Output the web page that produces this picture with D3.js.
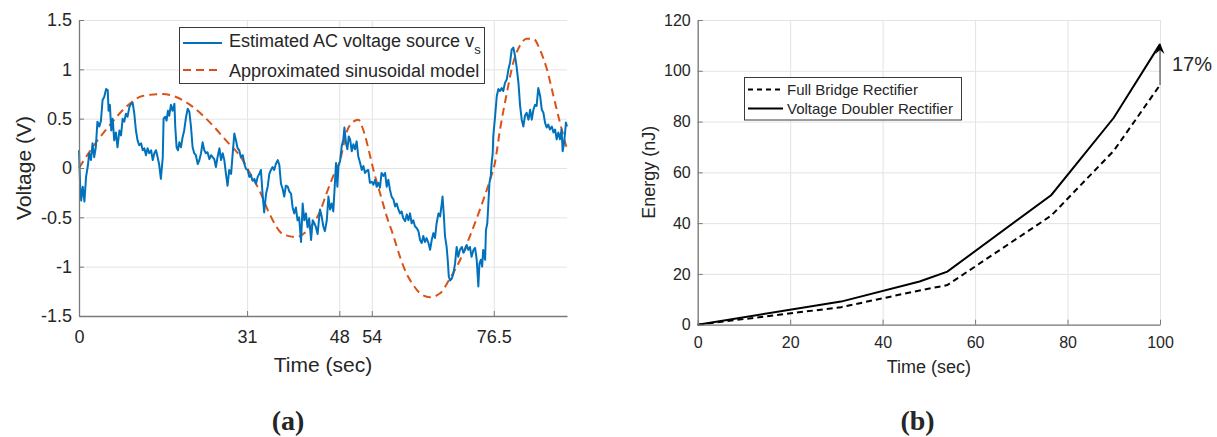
<!DOCTYPE html>
<html><head><meta charset="utf-8">
<script src="https://cdn.jsdelivr.net/npm/d3@7/dist/d3.min.js"></script>
<style>
body{margin:0;background:#fff}
svg{display:block}
text{font-family:"Liberation Sans",Arial,Helvetica,sans-serif;fill:#262626}
</style>
</head><body>
<svg id="chart" width="1217" height="437"></svg>
<script>
// ---------- Panel (a) data ----------
const estimatedVs = [[0.0,0.18],[0.2,-0.16],[0.4,-0.33],[0.7,-0.19],[1.0,-0.34],[1.3,-0.09],[1.6,0.01],[1.9,0.15],[2.2,0.08],[2.5,0.25],[2.8,0.11],[3.1,0.21],[3.4,0.47],[3.75,0.42],[4.05,0.48],[4.35,0.69],[4.65,0.72],[5.0,0.80],[5.3,0.79],[5.45,0.58],[5.7,0.64],[5.95,0.38],[6.2,0.50],[6.5,0.28],[6.8,0.36],[7.1,0.21],[7.45,0.38],[7.75,0.33],[8.05,0.50],[8.35,0.47],[8.65,0.55],[8.95,0.52],[9.3,0.62],[9.6,0.65],[9.9,0.66],[10.2,0.55],[10.5,0.38],[10.8,0.28],[11.1,0.23],[11.45,0.25],[11.75,0.18],[12.05,0.20],[12.35,0.13],[12.65,0.20],[12.95,0.15],[13.3,0.18],[13.6,0.08],[13.9,0.15],[14.2,0.18],[14.5,0.11],[14.8,0.03],[15.1,-0.11],[15.45,0.11],[15.6,0.50],[15.9,0.52],[16.15,0.48],[16.4,0.58],[16.65,0.53],[16.95,0.64],[17.25,0.58],[17.6,0.65],[17.75,0.42],[18.0,0.21],[18.25,0.18],[18.5,0.26],[18.8,0.21],[19.1,0.31],[19.4,0.38],[19.75,0.52],[20.05,0.60],[20.35,0.57],[20.65,0.42],[20.95,0.21],[21.25,0.15],[21.55,0.13],[21.9,0.04],[22.2,0.08],[22.5,0.15],[22.8,0.26],[23.1,0.18],[23.4,0.15],[23.7,0.16],[24.05,0.09],[24.35,0.13],[24.65,0.11],[24.95,0.09],[25.25,0.01],[25.55,0.11],[25.9,0.20],[26.2,0.08],[26.5,0.15],[26.8,0.08],[27.1,-0.06],[27.4,-0.18],[27.7,-0.02],[28.05,-0.06],[28.35,0.15],[28.65,0.35],[28.95,0.28],[29.25,0.20],[29.55,0.18],[29.85,0.11],[30.2,0.13],[30.5,0.04],[30.8,-0.01],[31.1,-0.02],[31.4,-0.09],[31.7,-0.07],[32.0,-0.13],[32.35,-0.11],[32.65,-0.16],[32.95,-0.09],[33.25,-0.06],[33.55,-0.02],[33.85,-0.26],[34.15,-0.45],[34.5,-0.26],[34.8,-0.19],[35.1,-0.06],[35.4,-0.02],[35.7,0.01],[36.0,-0.02],[36.3,0.04],[36.65,0.08],[36.95,0.03],[37.25,-0.16],[37.55,-0.21],[37.85,-0.29],[38.15,-0.18],[38.5,-0.19],[38.8,-0.24],[39.1,-0.26],[39.4,-0.40],[39.7,-0.46],[40.0,-0.40],[40.3,-0.53],[40.6,-0.50],[40.95,-0.75],[41.25,-0.36],[41.55,-0.53],[41.85,-0.46],[42.15,-0.60],[42.45,-0.51],[42.8,-0.73],[43.1,-0.53],[43.4,-0.56],[43.7,-0.60],[44.0,-0.67],[44.3,-0.50],
[44.45,-0.42],[44.75,-0.49],[45.05,-0.59],[45.35,-0.64],[45.7,-0.53],[46.0,-0.29],[46.3,-0.42],[46.6,-0.36],[46.9,-0.44],[47.2,-0.15],[47.4,0.05],[47.65,-0.19],[47.85,0.02],[48.15,0.07],[48.45,0.22],[48.75,0.29],[48.95,0.41],[49.25,0.25],[49.5,0.19],[49.75,0.32],[50.0,0.29],[50.3,0.17],[50.6,0.24],[50.9,0.19],[51.2,0.27],[51.5,0.12],[51.85,0.05],[52.15,-0.02],[52.45,0.02],[52.75,-0.05],[53.05,-0.03],[53.35,-0.02],[53.65,-0.15],[54.0,-0.14],[54.3,-0.17],[54.6,-0.12],[54.9,-0.19],[55.2,-0.15],[55.5,-0.20],[55.8,-0.05],[56.15,-0.08],[56.45,-0.05],[56.75,-0.19],[57.05,-0.12],[57.35,-0.22],[57.65,-0.29],[58.0,-0.32],[58.3,-0.39],[58.6,-0.36],[58.9,-0.42],[59.2,-0.46],[59.5,-0.44],[59.8,-0.51],[60.15,-0.54],[60.45,-0.47],[60.75,-0.53],[61.05,-0.46],[61.35,-0.56],[61.65,-0.53],[61.95,-0.59],[62.3,-0.61],[62.6,-0.64],[62.9,-0.73],[63.2,-0.76],[63.5,-0.69],[63.8,-0.75],[64.1,-0.71],[64.45,-0.76],[64.75,-0.83],[65.05,-0.73],[65.35,-0.66],[65.65,-0.71],[65.95,-0.56],[66.3,-0.46],[66.6,-0.49],[66.9,-0.36],[67.05,-0.29],[67.3,-0.49],[67.5,-0.69],[67.8,-0.80],[68.0,-0.93],[68.2,-1.10],[68.45,-1.14],[68.75,-1.12],[69.05,-1.07],[69.35,-0.97],[69.65,-0.80],[69.95,-0.90],[70.25,-0.83],[70.6,-0.80],[70.9,-0.86],[71.2,-0.83],[71.5,-0.78],[71.8,-0.83],[72.1,-0.80],[72.4,-0.90],[72.75,-0.83],[73.05,-0.81],[73.35,-0.93],[73.65,-1.20],[73.85,-0.97],[74.1,-0.93],[74.35,-1.00],[74.55,-0.83],[74.9,-0.93],[75.05,-0.63],[75.3,-0.56],[75.5,-0.36],[75.7,-0.15],[75.95,-0.08],[76.1,0.05],[76.3,0.15],[76.4,0.32],[76.75,0.53],[77.05,0.73],[77.35,0.80],[77.65,0.78],[77.95,0.81],[78.25,0.78],[78.55,0.86],[78.9,0.90],[79.2,1.00],[79.5,1.07],[79.8,1.20],[80.1,1.22],[80.4,1.14],[80.7,1.03],[81.05,0.86],[81.35,0.63],[81.65,0.49],[81.95,0.42],[82.25,0.53],[82.55,0.56],[82.9,0.49],[83.2,0.59],[83.5,0.49],[83.8,0.59],[84.1,0.64],[84.4,0.63],[84.7,0.81],[85.05,0.73],[85.35,0.59],[85.65,0.56],[85.95,0.46],[86.25,0.41],[86.55,0.44],[86.85,0.39],[87.2,0.42],[87.5,0.36],[87.8,0.39],[88.1,0.29],[88.4,0.36],[88.7,0.29],[89.0,0.39],[89.2,0.17],[89.45,0.25],[89.65,0.36],[89.8,0.46],[90.0,0.42]];

const sinusoidalModel = [[0,0],[2.5,0.21],[5.6,0.43],[8.7,0.62],[11.7,0.73],[15.4,0.75],[17.9,0.72],[21.0,0.62],[24.0,0.47],[27.1,0.28],[30.2,0.08],[31.4,-0.04],[33.3,-0.23],[35.1,-0.46],[37.6,-0.67],[40.0,-0.70],[42.5,-0.61],[44.45,-0.44],[45.7,-0.25],[46.9,-0.08],[48.1,0.07],[49.4,0.37],[50.6,0.47],[51.5,0.49],[52.4,0.39],[53.7,0.12],[54.3,-0.02],[55.5,-0.25],[56.75,-0.49],[58.0,-0.69],[59.2,-0.90],[60.4,-1.07],[61.7,-1.19],[62.9,-1.27],[64.7,-1.31],[66.6,-1.27],[68.4,-1.12],[70.3,-0.93],[72.1,-0.69],[73.95,-0.42],[75.8,-0.12],[76.7,0.05],[77.65,0.39],[78.9,0.76],[80.1,1.07],[81.3,1.24],[82.55,1.31],[83.8,1.31],[85.0,1.20],[86.3,1.00],[87.5,0.73],[88.7,0.46],[90.0,0.19]];

const aXTicks = [0, 31, 48, 54, 76.5];
const aXTickLabels = ["0", "31", "48", "54", "76.5"];
const aYTicks = [-1.5, -1, -0.5, 0, 0.5, 1, 1.5];
const aYTickLabels = ["-1.5", "-1", "-0.5", "0", "0.5", "1", "1.5"];

// ---------- Panel (b) data ----------
const energyTime = [0, 31, 48, 54, 76.5, 90, 100];
const fullBridge = [0, 6.9, 13.5, 15.6, 43, 68.5, 94.4];
const voltageDoubler = [0, 9.1, 17, 20.9, 51.1, 81.5, 110.5];
const bXTicks = [0, 20, 40, 60, 80, 100];
const bYTicks = [0, 20, 40, 60, 80, 100, 120];
const arrowFromTo = [94.4, 110.5];
const arrowLabel = "17%";

const svg = d3.select("#chart");
const GRID = "#e3e3e3", AXIS = "#7a7a7a";

function styleAxis(g, fs){
  g.select(".domain").attr("stroke", AXIS).attr("stroke-width", 1.3);
  g.selectAll(".tick line").attr("stroke", AXIS).attr("stroke-width", 1);
  g.selectAll(".tick text").style("font-size", fs + "px").attr("fill", "#262626")
   .style("font-family", '"Liberation Sans",Arial,sans-serif');
}
function grid(g){
  g.select(".domain").remove();
  g.selectAll(".tick line").attr("stroke", GRID).attr("stroke-width", 1);
}

// ================= Panel (a) =================
const xA = d3.scaleLinear().domain([0, 90]).range([79, 567]);
const yA = d3.scaleLinear().domain([-1.5, 1.5]).range([316, 20]);
const gA = svg.append("g");

gA.append("g").attr("transform", `translate(0,${yA(-1.5)})`)
  .call(d3.axisBottom(xA).tickValues(aXTicks).tickSize(-(yA(-1.5) - yA(1.5))).tickFormat(""))
  .call(grid);
gA.append("g").attr("transform", `translate(${xA(0)},0)`)
  .call(d3.axisLeft(yA).tickValues(aYTicks).tickSize(-(xA(90) - xA(0))).tickFormat(""))
  .call(grid);

gA.append("path").datum(sinusoidalModel)
  .attr("fill", "none").attr("stroke", "#D95319").attr("stroke-width", 2)
  .attr("stroke-dasharray", "8,5")
  .attr("d", d3.line().x(d => xA(d[0])).y(d => yA(d[1])).curve(d3.curveMonotoneX));

gA.append("path").datum(estimatedVs)
  .attr("fill", "none").attr("stroke", "#0072BD").attr("stroke-width", 2)
  .attr("stroke-linejoin", "round")
  .attr("d", d3.line().x(d => xA(d[0])).y(d => yA(d[1])));

gA.append("g").attr("transform", `translate(0,${yA(-1.5)})`)
  .call(d3.axisBottom(xA).tickValues(aXTicks).tickSize(-5).tickSizeOuter(0).tickPadding(14)
    .tickFormat((d, i) => aXTickLabels[i]))
  .call(g => styleAxis(g, 18));
gA.append("g").attr("transform", `translate(${xA(0)},0)`)
  .call(d3.axisLeft(yA).tickValues(aYTicks).tickSize(-5).tickSizeOuter(0).tickPadding(7)
    .tickFormat((d, i) => aYTickLabels[i]))
  .call(g => styleAxis(g, 18));

gA.append("text").attr("x", (xA(0) + xA(90)) / 2).attr("y", 372)
  .attr("text-anchor", "middle").style("font-size", "21px").text("Time (sec)");
gA.append("text").attr("transform", `translate(31,${(yA(-1.5) + yA(1.5)) / 2}) rotate(-90)`)
  .attr("text-anchor", "middle").style("font-size", "21px").text("Voltage (V)");

// legend (a)
const legA = gA.append("g");
legA.append("rect").attr("x", 179.5).attr("y", 27.5).attr("width", 305).attr("height", 56)
  .attr("fill", "#fff").attr("stroke", "#3a3a3a").attr("stroke-width", 1);
legA.append("line").attr("x1", 183).attr("x2", 222).attr("y1", 43).attr("y2", 43)
  .attr("stroke", "#0072BD").attr("stroke-width", 2);
legA.append("line").attr("x1", 183).attr("x2", 222).attr("y1", 70).attr("y2", 70)
  .attr("stroke", "#D95319").attr("stroke-width", 2).attr("stroke-dasharray", "8,5");
const t1 = legA.append("text").attr("x", 229).attr("y", 47).style("font-size", "18px");
t1.append("tspan").text("Estimated AC voltage source v");
t1.append("tspan").attr("dy", 7).style("font-size", "13px").text("s");
legA.append("text").attr("x", 229).attr("y", 77).style("font-size", "18px").text("Approximated sinusoidal model");

// ================= Panel (b) =================
const xB = d3.scaleLinear().domain([0, 100]).range([697.7, 1160]);
const yB = d3.scaleLinear().domain([0, 120]).range([324.7, 20]);
const gB = svg.append("g");

gB.append("g").attr("transform", `translate(0,${yB(0)})`)
  .call(d3.axisBottom(xB).tickValues(bXTicks).tickSize(-(yB(0) - yB(120))).tickFormat(""))
  .call(grid);
gB.append("g").attr("transform", `translate(${xB(0)},0)`)
  .call(d3.axisLeft(yB).tickValues(bYTicks).tickSize(-(xB(100) - xB(0))).tickFormat(""))
  .call(grid);

const lineB = d3.line().x((d, i) => xB(energyTime[i])).y(d => yB(d));
gB.append("path").datum(fullBridge).attr("fill", "none").attr("stroke", "#000")
  .attr("stroke-width", 2).attr("stroke-dasharray", "6,4").attr("d", lineB);
gB.append("path").datum(voltageDoubler).attr("fill", "none").attr("stroke", "#000")
  .attr("stroke-width", 2).attr("d", lineB);

gB.append("g").attr("transform", `translate(0,${yB(0)})`)
  .call(d3.axisBottom(xB).tickValues(bXTicks).tickSize(-5).tickSizeOuter(0).tickPadding(12)
    .tickFormat(d3.format("d")))
  .call(g => styleAxis(g, 16));
gB.append("g").attr("transform", `translate(${xB(0)},0)`)
  .call(d3.axisLeft(yB).tickValues(bYTicks).tickSize(-5).tickSizeOuter(0).tickPadding(7)
    .tickFormat(d3.format("d")))
  .call(g => styleAxis(g, 16));

gB.append("text").attr("x", (xB(0) + xB(100)) / 2).attr("y", 373)
  .attr("text-anchor", "middle").style("font-size", "18px").text("Time (sec)");
gB.append("text").attr("transform", `translate(655,${(yB(0) + yB(120)) / 2}) rotate(-90)`)
  .attr("text-anchor", "middle").style("font-size", "18px").text("Energy (nJ)");

// arrow
const ax = xB(100), ayFrom = yB(arrowFromTo[0]), ayTo = yB(arrowFromTo[1]);
gB.append("line").attr("x1", ax).attr("x2", ax).attr("y1", ayFrom).attr("y2", ayTo + 4)
  .attr("stroke", "#333").attr("stroke-width", 1);
gB.append("path")
  .attr("d", `M${ax},${ayTo - 1} L${ax - 4.5},${ayTo + 10} L${ax},${ayTo + 6} L${ax + 4.5},${ayTo + 10} Z`)
  .attr("fill", "#000");
gB.append("text").attr("x", ax + 12).attr("y", 71).style("font-size", "20px").text(arrowLabel);

// legend (b)
const legB = gB.append("g");
legB.append("rect").attr("x", 744.5).attr("y", 77.5).attr("width", 217).attr("height", 42.5)
  .attr("fill", "#fff").attr("stroke", "#3a3a3a").attr("stroke-width", 1);
legB.append("line").attr("x1", 748).attr("x2", 783).attr("y1", 89.5).attr("y2", 89.5)
  .attr("stroke", "#000").attr("stroke-width", 2).attr("stroke-dasharray", "5,4");
legB.append("line").attr("x1", 748).attr("x2", 783).attr("y1", 108.5).attr("y2", 108.5)
  .attr("stroke", "#000").attr("stroke-width", 2);
legB.append("text").attr("x", 787).attr("y", 95).style("font-size", "15px").text("Full Bridge Rectifier");
legB.append("text").attr("x", 787).attr("y", 114).style("font-size", "15px").text("Voltage Doubler Rectifier");

// captions
svg.append("text").attr("x", 288).attr("y", 430).attr("text-anchor", "middle")
  .style("font-family", '"Liberation Serif","DejaVu Serif",serif').style("font-weight", "bold")
  .style("font-size", "28px").attr("fill", "#000").text("(a)");
svg.append("text").attr("x", 917.5).attr("y", 430).attr("text-anchor", "middle")
  .style("font-family", '"Liberation Serif","DejaVu Serif",serif').style("font-weight", "bold")
  .style("font-size", "28px").attr("fill", "#000").text("(b)");
</script>
</body></html>
